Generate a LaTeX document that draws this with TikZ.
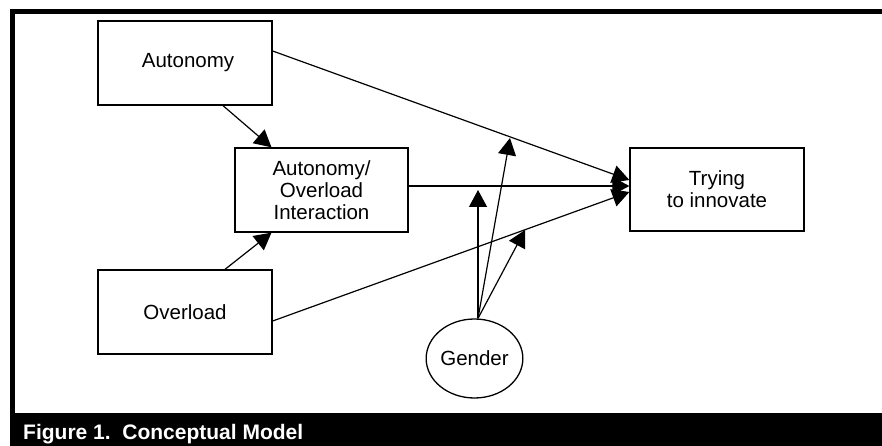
\documentclass[tikz,border=0pt]{standalone}
\usepackage{fontspec}
\setmainfont{Liberation Sans}
\usetikzlibrary{arrows.meta,shapes.geometric}
\begin{document}
\begin{tikzpicture}[x=1pt,y=-1pt,
  box/.style={draw,line width=1.3pt,minimum width=174pt,minimum height=84pt,inner sep=0pt,
    font=\fontsize{20.5}{22}\selectfont,align=center},
  conn/.style={line width=1.2pt,-{Triangle[length=17pt,width=18pt]}},
  band/.style={fill=black}
]
\useasboundingbox (0,0) rectangle (882,446);
\fill[white] (0,0) rectangle (882,446);
% frame
\fill[band] (10,9) rectangle (882,14);
\fill[band] (10,9) rectangle (15,446);
\fill[band] (10,413) rectangle (882,446);
\node[anchor=west,text=white,inner sep=0pt,font=\bfseries\fontsize{21}{21}\selectfont] (cap) at (23,434) {Figure 1.\ \ Conceptual Model};
% nodes
\node[box] (auto) at (185,63) {\hspace*{6pt}Autonomy};
\node[box,minimum width=173pt] (aoi) at (321.5,190) {Autonomy/\\Overload\\Interaction};
\node[box] (over) at (185,312) {Overload};
\node[box,minimum height=83pt] (try) at (717,189.5) {Trying\\to innovate};
\node[draw,ellipse,line width=1.3pt,minimum width=95pt,minimum height=79pt,inner sep=0pt,
  font=\fontsize{20.5}{22}\selectfont] (gen) at (474.5,358.5) {Gender};
% connectors
\draw[conn] ([xshift=38pt]auto.south) -- ([xshift=-50pt]aoi.north);
\draw[conn] ([xshift=40pt]over.north) -- ([xshift=-50pt]aoi.south);
\draw[conn] ([yshift=12pt]auto.east) -- ([yshift=9.5pt]try.west);
\draw[conn] ([yshift=4pt]aoi.east) -- ([yshift=3.5pt]try.west);
\draw[conn] ([yshift=-9pt]over.east) -- ([yshift=-2.5pt]try.west);
% moderation targets
\coordinate (m1) at (478,190);
\coordinate (m2) at (510,138);
\coordinate (m3) at (525,230);
\coordinate (g) at ([xshift=3.5pt]gen.north);
\draw[conn] (g) -- (m1);
\draw[conn] (g) -- (m2);
\draw[conn] (g) -- (m3);
\end{tikzpicture}
\end{document}
